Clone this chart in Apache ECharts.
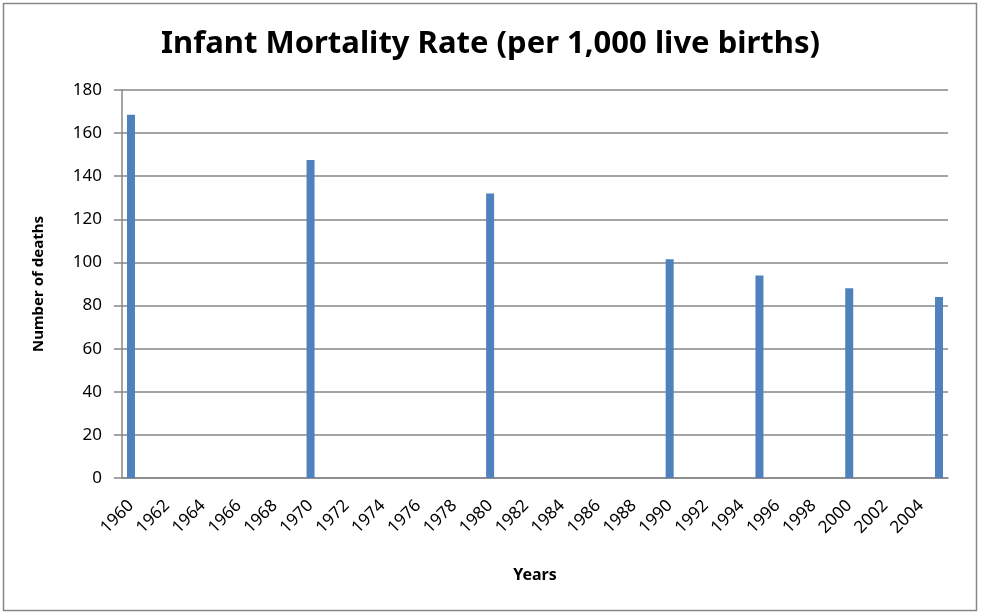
<!DOCTYPE html>
<html>
<head>
<meta charset="utf-8">
<script src="https://cdn.jsdelivr.net/npm/echarts@6/dist/echarts.min.js"></script>
<style>html,body{margin:0;padding:0;background:#fff}#c{width:981px;height:616px}</style>
</head>
<body>
<div id="c"></div>
<script>
const years = [];
for (let y = 1960; y <= 2005; y++) years.push(String(y));
const dataYears = ['1960', '1970', '1980', '1990', '1995', '2000', '2005'];
const dataValues = [168.5, 147.5, 132, 101.5, 94, 88, 84];
const yTicks = [0, 20, 40, 60, 80, 100, 120, 140, 160, 180];

const values = years.map(y => {
  const i = dataYears.indexOf(y);
  return i >= 0 ? dataValues[i] : null;
});

const chart = echarts.init(document.getElementById('c'));
chart.setOption({
  animation: false,
  backgroundColor: '#fff',
  graphic: [{
    type: 'rect', shape: {x: 3.5, y: 3.5, width: 973, height: 607},
    style: {fill: 'none', stroke: '#868686', lineWidth: 1.5}, silent: true
  }],
  title: {
    text: 'Infant Mortality Rate (per 1,000 live births)',
    left: 'center', top: 24,
    textStyle: {fontFamily: 'Noto Sans', fontWeight: 'bold', fontSize: 31, color: '#000'}
  },
  grid: {left: 122, right: 33, top: 90, bottom: 138, containLabel: false},
  xAxis: {
    type: 'category', data: years,
    name: 'Years', nameLocation: 'middle', nameGap: 89,
    nameTextStyle: {fontFamily: 'Noto Sans', fontWeight: 'bold', fontSize: 16, color: '#000'},
    axisLine: {lineStyle: {color: '#868686', width: 1.5}},
    axisTick: {show: false},
    axisLabel: {interval: 1, rotate: 45, margin: 25, fontFamily: 'Noto Sans', fontSize: 17, color: '#000'}
  },
  yAxis: {
    type: 'value', min: 0, max: 180, interval: 20,
    name: 'Number of deaths', nameLocation: 'middle', nameGap: 76, nameRotate: 90,
    nameTextStyle: {fontFamily: 'Noto Sans', fontWeight: 'bold', fontSize: 15, color: '#000'},
    axisLine: {show: true, lineStyle: {color: '#868686', width: 1.5}},
    axisTick: {show: true, length: 8, lineStyle: {color: '#868686', width: 1.5}},
    splitLine: {lineStyle: {color: '#868686', width: 1.5}},
    axisLabel: {margin: 20, fontFamily: 'Noto Sans', fontSize: 17, color: '#000',
      formatter: v => yTicks.includes(v) ? String(v) : ''}
  },
  series: [{
    type: 'bar', data: values, barWidth: 8,
    itemStyle: {color: '#4f81bd'}
  }]
});
</script>
</body>
</html>
